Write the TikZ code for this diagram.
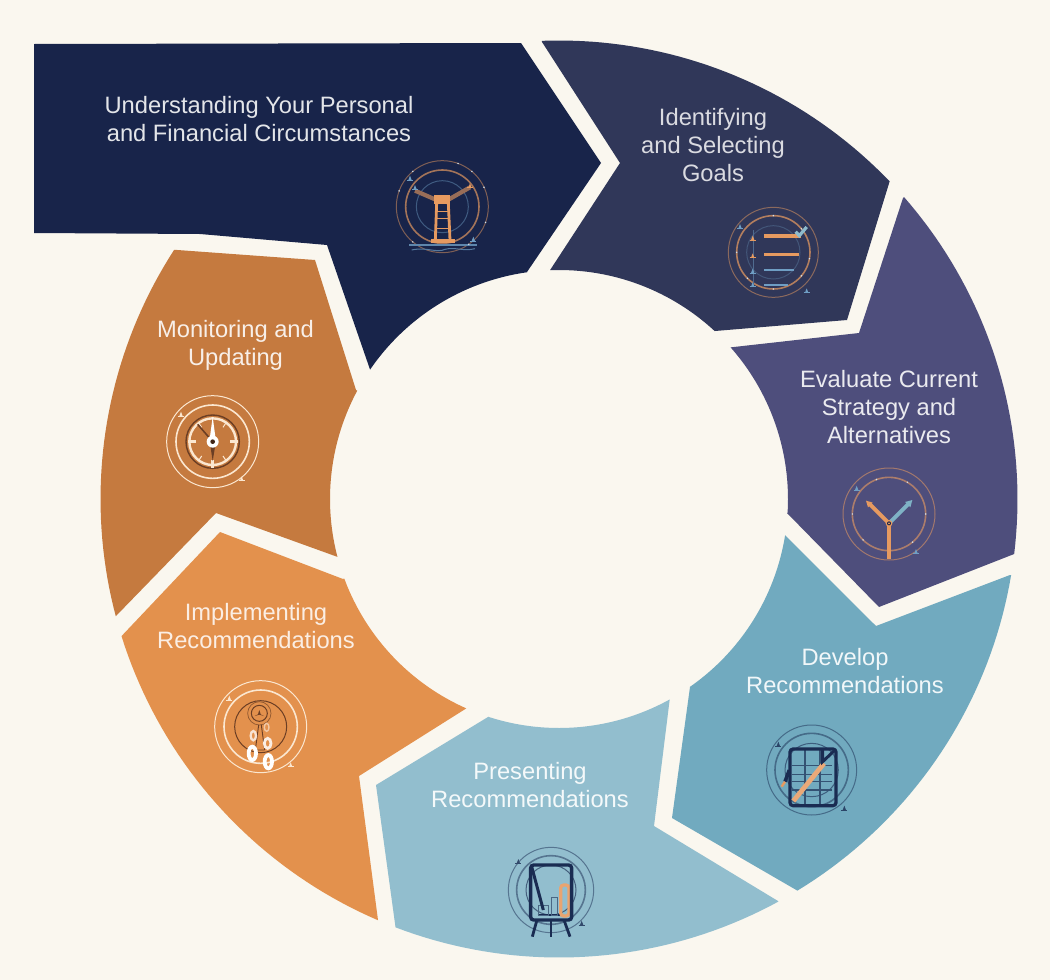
\documentclass[tikz,border=0pt]{standalone}
\usepackage{fontspec}
\setmainfont{Liberation Sans}
\definecolor{bgc}{HTML}{FAF7EF}
\definecolor{navyc}{HTML}{18244A}
\definecolor{identc}{HTML}{303759}
\definecolor{evalc}{HTML}{4E4E7C}
\definecolor{devc}{HTML}{71AABF}
\definecolor{presc}{HTML}{92BECE}
\definecolor{implc}{HTML}{E3914D}
\definecolor{monc}{HTML}{C57A3F}
\definecolor{orng}{HTML}{E69A60}
\definecolor{inkc}{HTML}{1A2C52}
\definecolor{skyc}{HTML}{6F9EC4}
\definecolor{brwn}{HTML}{6B3E24}
\definecolor{creamc}{HTML}{FBE7D0}
\tikzset{
  lab/.style={align=center,inner sep=0pt,font=\fontsize{23.7}{28}\selectfont},
  ringo/.style={line width=1pt,draw=#1},
  ringm/.style={line width=1.6pt,draw=#1},
  ringi/.style={line width=1pt,draw=#1},
  iconbox/.style={x=.33333pt,y=-.33333pt},
  rarc/.style n args={3}{insert path={-- plot[domain=#1:#2,samples=40] ({559+#3*cos(\x)},{499+#3*sin(\x)})}},
}
\newcommand\sparkle[3]{%
  \draw[#3,line width=.7pt] (#1-9,#2+5) -- (#1+9,#2+5);
  \fill[#3] (#1-5,#2+5) -- (#1,#2-8) -- (#1+5,#2+5) -- cycle;}
\begin{document}
\begin{tikzpicture}[x=1pt,y=-1pt]
\fill[bgc] (0,0) rectangle (1050,980);
\useasboundingbox (0,0) rectangle (1050,980);
% segments
\fill[navyc] (34,44) -- (521,43) -- (601,163) -- (527,272) [rarc={262}{214.4}{229}] -- (327,245) -- (200,234) -- (34,233) -- cycle;
\fill[identc] (620,163) -- (542,42) [rarc={267.87}{316.15}{458.5}] -- (847,320) -- (715,331) [rarc={312.88}{267.75}{229}] -- cycle;
\fill[evalc] (859,333) -- (903,198) [rarc={318.81}{366.89}{458.5}] -- (879,607) -- (787,513) [rarc={363.5}{318.53}{229}] -- cycle;
\fill[devc] (876,626) -- (1010,575) [rarc={9.57}{58.67}{458.5}] -- (672,818) -- (690,687) [rarc={55.13}{9.09}{229}] -- cycle;
\fill[presc] (654,826) -- (778,901) [rarc={61.42}{110.89}{458.5}] -- (376,785) -- (488,717) [rarc={108.04}{61.09}{229}] -- cycle;
\fill[implc] (359,776) -- (378,920) [rarc={113.27}{162.6}{458.5}] -- (220,532) -- (343,579) [rarc={159.68}{113.88}{229}] -- cycle;
\fill[monc] (216,513) -- (116,616) [rarc={165.21}{212.93}{458.5}] -- (315,260) -- (356,390) [rarc={208.24}{165.36}{229}] -- cycle;
% labels
\node[lab,text=white!88!navyc] (t1) at (259,119.5) {Understanding Your Personal\\and Financial Circumstances};
\node[lab,text=white!82!identc] (t2) at (713,145.5) {Identifying\\and Selecting\\Goals};
\node[lab,text=white!88!evalc] (t3) at (889,407) {Evaluate Current\\Strategy and\\Alternatives};
\node[lab,text=white!90!devc] (t4) at (845,671.5) {Develop\\Recommendations};
\node[lab,text=white!90!presc] (t5) at (530,785) {Presenting\\Recommendations};
\node[lab,text=white!85!implc] (t6) at (256,626) {Implementing\\Recommendations};
\node[lab,text=white!88!monc] (t7) at (235.5,345.5) {Monitoring and\\Updating};
% icon 1: lighthouse
\begin{scope}[shift={(380,150)},iconbox]
\draw[ringo=orng!50!navyc] (187,170) circle[radius=138];
\draw[ringm=orng!68!navyc] (187,170) circle[radius=110];
\draw[ringi=skyc!45!navyc] (187,170) circle[radius=78];
\draw[orng!62!navyc,line width=4.2pt] (165,148) -- (105,122);
\draw[orng!62!navyc,line width=4.2pt] (207,148) -- (270,112);
\draw[orng,line width=2.8pt] (170,160) -- (166,270);
\draw[orng,line width=2.8pt] (205,160) -- (210,270);
\draw[orng,line width=1.5pt] (169,185) -- (206,185) (168,205) -- (207,205) (167,235) -- (208,235);
\fill[orng] (163,136) rectangle (209,162);
\fill[orng] (153,267) rectangle (224,279);
\draw[skyc!80!navyc,line width=1.2pt] (88,285) -- (290,285);
\draw[skyc!70!navyc,line width=1pt] (95,300) .. controls (140,290) and (170,310) .. (195,298) .. controls (225,290) and (250,305) .. (285,296);
\sparkle{90}{85}{skyc}
\sparkle{105}{113}{skyc}
\sparkle{270}{108}{orng}
\sparkle{280}{268}{skyc}
\foreach \a in {-70,-50,-25,20,55,130,200,230} {\fill[white!70!skyc] ({187+138*cos(\a)},{170+138*sin(\a)}) circle[radius=2.5];}
\end{scope}
% icon 2: checklist
\begin{scope}[shift={(710,195)},iconbox]
\draw[ringo=orng!50!identc] (190,172) circle[radius=135];
\draw[ringm=orng!72!identc] (190,172) circle[radius=110];
\draw[ringi=skyc!30!identc] (190,172) circle[radius=80];
\draw[skyc!50!identc,line width=.6pt] (130,105) -- (130,275);
\draw[orng,line width=3.8pt] (163,124) -- (272,124);
\draw[orng,line width=3pt] (163,178) -- (268,178);
\draw[skyc,line width=2.8pt] (163,225) -- (252,225);
\draw[skyc,line width=2.2pt] (163,270) -- (235,270);
\draw[devc!80!white,line width=3.2pt] (257,110) -- (268,122) -- (290,96);
\sparkle{128}{130}{orng}
\sparkle{128}{183}{orng}
\sparkle{128}{229}{skyc}
\sparkle{128}{270}{skyc}
\sparkle{90}{95}{skyc}
\sparkle{290}{288}{skyc}
\foreach \a in {-90,10,-40,40,90,135,180} {\fill[white!70!skyc] ({190+110*cos(\a)},{172+110*sin(\a)}) circle[radius=2.5];}
\end{scope}
% icon 3: forked arrows
\begin{scope}[shift={(830,460)},iconbox]
\draw[ringo=orng!55!evalc] (177,162) circle[radius=138];
\draw[ringm=orng!62!evalc] (177,162) circle[radius=110];
\draw[orng,line width=4.2pt] (177,190) -- (177,297);
\draw[orng,line width=4pt] (177,190) -- (116,129);
\fill[orng] (108,122) -- (128,128) -- (114,142) -- cycle;
\draw[devc!90!white,line width=4pt] (177,190) -- (236,131);
\fill[devc!90!white] (247,120) -- (241,142) -- (225,126) -- cycle;
\fill[orng] (177,190) circle[radius=10];
\fill[navyc] (177,190) circle[radius=6];
\fill[orng] (177,190) circle[radius=3];
\sparkle{80}{85}{skyc}
\sparkle{258}{275}{skyc}
\foreach \a in {-110,-60,0,180,135,50} {\fill[white!70!skyc] ({177+110*cos(\a)},{162+110*sin(\a)}) circle[radius=2.5];}
\end{scope}
% icon 4: document
\begin{scope}[shift={(750,715)},iconbox]
\draw[ringo=inkc!50!devc] (185,165) circle[radius=135];
\draw[ringm=inkc!50!devc] (185,165) circle[radius=110];
\draw[ringi=inkc!60!devc] (185,165) circle[radius=80];
\draw[inkc!70!devc,line width=1.1pt] (165,105) -- (165,270) (210,105) -- (210,270);
\draw[inkc!70!devc,line width=1.1pt] (125,152) -- (245,152) (125,178) -- (245,178) (125,200) -- (245,200) (125,225) -- (245,225);
\draw[inkc,line width=3.2pt,rounded corners=3pt] (120,102) rectangle (258,272);
\draw[orng!85!white,line width=4.8pt] (130,258) -- (222,145);
\draw[inkc,line width=3pt] (218,105) -- (218,140) -- (255,105);
\draw[inkc,line width=3.6pt] (118,165) -- (105,200);
\draw[orng,line width=2.4pt] (105,200) -- (95,215);
\sparkle{85}{88}{inkc!80!devc}
\sparkle{283}{280}{inkc!80!devc}
\end{scope}
% icon 5: easel
\begin{scope}[shift={(495,835)},iconbox]
\draw[ringo=inkc!50!presc] (168,165) circle[radius=128];
\draw[ringm=inkc!50!presc] (168,165) circle[radius=103];
\draw[ringi=inkc!65!presc] (168,165) circle[radius=75];
\draw[inkc,line width=1.2pt] (128,240) -- (195,240);
\draw[inkc!60!presc,line width=1pt] (130,210) rectangle (160,240);
\draw[inkc!60!presc,line width=1pt] (168,187) rectangle (188,240);
\draw[orng!90!white,line width=3.2pt,rounded corners=3pt] (197,150) rectangle (222,243);
\draw[inkc,line width=3.4pt,rounded corners=3pt] (107,90) rectangle (230,255);
\draw[inkc,line width=3pt] (110,95) -- (145,225);
\draw[inkc,line width=2.8pt] (125,258) -- (112,305) (208,258) -- (225,305);
\draw[inkc,line width=1.2pt] (168,258) -- (168,305);
\sparkle{70}{80}{inkc!80!presc}
\sparkle{260}{265}{inkc!80!presc}
\end{scope}
% icon 6: chain
\begin{scope}[shift={(200,670)},iconbox]
\draw[ringo=creamc] (182,170) circle[radius=138];
\draw[ringm=creamc] (182,170) circle[radius=110];
\draw[ringi=brwn] (182,170) circle[radius=78];
\draw[line width=.7pt,draw=brwn!70!implc] (178,130) circle[radius=35];
\draw[line width=1pt,draw=brwn] (178,130) circle[radius=24];
\fill[brwn] (178,120) -- (182,133) -- (192,138) -- (178,134) -- (164,138) -- (174,133) -- cycle;
\draw[brwn,line width=.9pt] (176,165) -- (166,240) (184,165) -- (194,240) (166,240) -- (194,240);
\draw[white,line width=3.8pt] (157,250) ellipse[x radius=11,y radius=20];
\draw[white,line width=3.8pt] (205,275) ellipse[x radius=11,y radius=20];
\draw[white!85!implc,line width=2.8pt] (203,220) ellipse[x radius=10,y radius=15];
\draw[white!75!implc,line width=2.3pt] (160,197) ellipse[x radius=8,y radius=14];
\draw[white!50!implc,line width=1.4pt] (200,172) ellipse[x radius=7,y radius=12];
\sparkle{88}{85}{creamc}
\sparkle{272}{285}{creamc}
\end{scope}
% icon 7: compass
\begin{scope}[shift={(155,385)},iconbox]
\draw[ringo=creamc] (173,170) circle[radius=138];
\draw[ringm=creamc] (173,170) circle[radius=110];
\draw[line width=1.4pt,draw=brwn] (173,170) circle[radius=80];
\draw[line width=2.4pt,draw=creamc] (173,170) circle[radius=70];
\draw[creamc,line width=3pt] (100,170) -- (122,170) (226,170) -- (248,170) (173,226) -- (173,248);
\draw[creamc,line width=1pt] (132,115) -- (140,127) (212,115) -- (204,127) (132,225) -- (140,213) (212,225) -- (204,213);
\draw[brwn,line width=1.6pt] (173,170) -- (128,118);
\fill[brwn] (165,175) -- (173,228) -- (182,175) -- cycle;
\fill[white] (163,170) -- (173,95) -- (183,170) -- cycle;
\fill[white] (173,170) circle[radius=18];
\fill[brwn!60!black] (173,170) circle[radius=7];
\sparkle{78}{88}{creamc}
\sparkle{260}{282}{creamc}
\end{scope}
\end{tikzpicture}
\end{document}
